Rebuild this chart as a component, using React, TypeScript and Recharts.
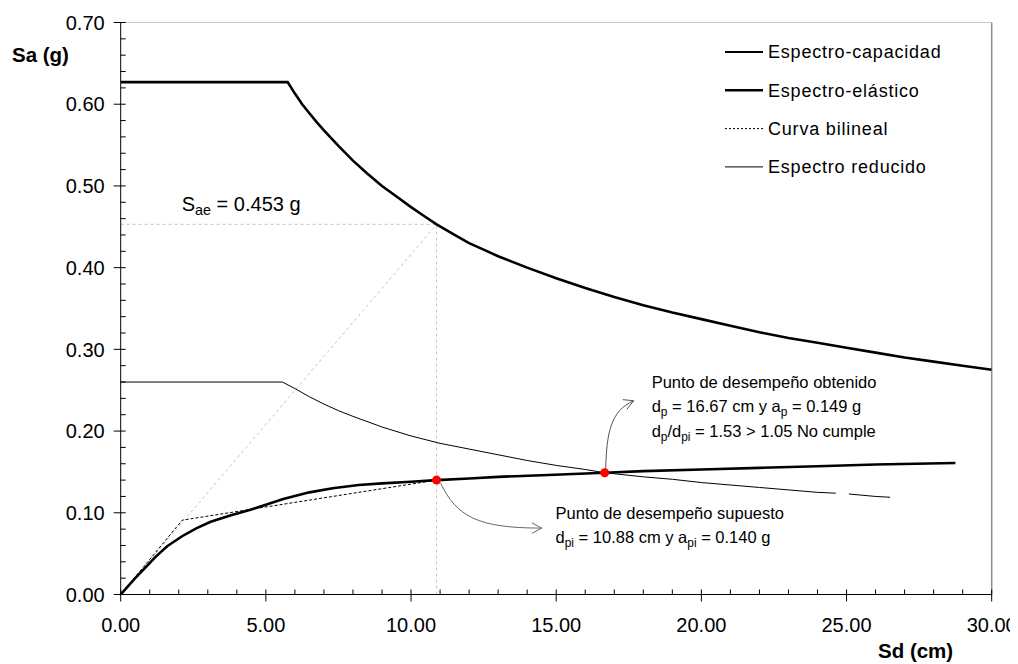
import React from "react";
import {
  LineChart,
  Line,
  XAxis,
  YAxis,
  ReferenceLine,
  ReferenceDot,
  Legend,
  Label,
} from "recharts";

type Pt = [number, number | null];

// Sd (cm), Sa (g)
const espectroCapacidad: Pt[] = [
  [0, 0], [0.5, 0.02], [0.8, 0.031], [1.2, 0.046], [1.6, 0.059], [2.1, 0.071],
  [2.6, 0.081], [3.1, 0.089], [3.8, 0.097], [4.5, 0.104], [5.6, 0.117],
  [6.5, 0.125], [7.3, 0.13], [8.2, 0.134], [9, 0.136], [10, 0.138],
  [10.88, 0.14], [12, 0.142], [13, 0.144], [14.5, 0.146], [16.67, 0.149],
  [18, 0.151], [20, 0.153], [22, 0.155], [24, 0.157], [26, 0.159], [28.75, 0.161],
];

const espectroElastico: Pt[] = [
  [0, 0.627], [5.75, 0.627], [6, 0.613], [6.25, 0.6], [6.5, 0.589],
  [6.75, 0.578], [7, 0.568], [7.5, 0.549], [8, 0.531], [8.5, 0.515],
  [9, 0.5], [9.5, 0.487], [10, 0.474], [10.5, 0.462], [10.88, 0.453],
  [11.5, 0.44], [12, 0.43], [12.5, 0.422], [13, 0.414], [14, 0.4], [15, 0.387],
  [16, 0.375], [17, 0.364], [18, 0.354], [19, 0.345], [20, 0.337],
  [21, 0.329], [22, 0.321], [23, 0.314], [24, 0.308], [25, 0.302],
  [26, 0.296], [27, 0.29], [28, 0.285], [29, 0.28], [30, 0.275],
];

const curvaBilineal: Pt[] = [[0, 0], [2.12, 0.091], [10.88, 0.14]];

const espectroReducido: Pt[] = [
  [0, 0.26], [5.57, 0.26], [6, 0.252], [6.5, 0.242], [7, 0.233], [7.5, 0.225],
  [8, 0.218], [9, 0.205], [10, 0.194], [11, 0.185], [12, 0.178], [13, 0.171],
  [14, 0.164], [15, 0.158], [16, 0.153], [16.67, 0.149], [18, 0.144],
  [19, 0.141], [20, 0.137], [21, 0.134], [22, 0.131], [23, 0.128],
  [24, 0.125], [24.63, 0.124], [24.85, null], [25.08, 0.123], [26, 0.12],
  [26.5, 0.119],
];

const xTicks = [
  0, 1, 2, 3, 4, 5, 6, 7, 8, 9, 10, 11, 12, 13, 14, 15,
  16, 17, 18, 19, 20, 21, 22, 23, 24, 25, 26, 27, 28, 29, 30,
];
const yTicks = [
  0, 0.02, 0.04, 0.06, 0.08, 0.1, 0.12, 0.14, 0.16, 0.18, 0.2, 0.22, 0.24,
  0.26, 0.28, 0.3, 0.32, 0.34, 0.36, 0.38, 0.4, 0.42, 0.44, 0.46, 0.48, 0.5,
  0.52, 0.54, 0.56, 0.58, 0.6, 0.62, 0.64, 0.66, 0.68, 0.7,
];

// punto de desempeño supuesto / obtenido
const dpi = 10.88;
const api = 0.14;
const dp = 16.67;
const ap = 0.149;
const sae = 0.453;
const tolerancia = 1.05;

const FONT = "'Liberation Sans', Arial, sans-serif";

const toRows = (pts: Pt[]) => pts.map(([sd, sa]) => ({ sd, sa }));

const secante = toRows([[0, 0], [dpi, sae]]);
const verticalDpi = toRows([[dpi, 0], [dpi, sae]]);
const horizontalSae = toRows([[0, sae], [dpi, sae]]);

const legendItems = [
  { name: "Espectro-capacidad", width: 2, dash: undefined },
  { name: "Espectro-elástico", width: 2.4, dash: undefined },
  { name: "Curva bilineal", width: 1, dash: "2 2" },
  { name: "Espectro reducido", width: 1, dash: undefined },
];

const isMultiple = (v: number, step: number) =>
  Math.abs(v / step - Math.round(v / step)) < 1e-6;

const XTick = (props: any) => {
  const { x, y, payload } = props;
  const v: number = payload.value;
  const major = isMultiple(v, 5);
  return (
    <g>
      <line x1={x} x2={x} y1={y - 5} y2={major ? y + 7 : y} stroke="#000" />
      {major && (
        <text x={x} y={y + 37} textAnchor="middle" fontSize={20} fontFamily={FONT} fill="#000">
          {v.toFixed(2)}
        </text>
      )}
    </g>
  );
};

const YTick = (props: any) => {
  const { x, y, payload } = props;
  const v: number = payload.value;
  const major = isMultiple(v, 0.1);
  return (
    <g>
      <line x1={major ? x - 7 : x} x2={x + 5} y1={y} y2={y} stroke="#000" />
      {major && (
        <text x={x - 16} y={y} dy="0.36em" textAnchor="end" fontSize={20} fontFamily={FONT} fill="#000">
          {v.toFixed(2)}
        </text>
      )}
    </g>
  );
};

// text made of [string, isSubscript] parts
const SubText = ({ x, y, parts, size = 16.5 }: { x: number; y: number; parts: [string, boolean][]; size?: number }) => {
  let shifted = false;
  return (
    <text x={x} y={y} fontSize={size} fontFamily={FONT} fill="#000">
      {parts.map(([s, sub], i) => {
        let dy = 0;
        if (sub && !shifted) { dy = 4; shifted = true; }
        else if (!sub && shifted) { dy = -4; shifted = false; }
        return (
          <tspan key={i} dy={dy} fontSize={sub ? size * 0.72 : size}>
            {s}
          </tspan>
        );
      })}
    </text>
  );
};

const chevron = (tx: number, ty: number, ang: number, color: string) => {
  const len = 11;
  const spread = 0.5;
  const a1 = ang + Math.PI - spread;
  const a2 = ang + Math.PI + spread;
  return (
    <path
      d={`M${tx + len * Math.cos(a1)},${ty + len * Math.sin(a1)} L${tx},${ty} L${tx + len * Math.cos(a2)},${ty + len * Math.sin(a2)}`}
      fill="none"
      stroke={color}
      strokeWidth={1}
    />
  );
};

const PuntoSupuesto = (props: any) => {
  const { cx, cy } = props;
  const tx = cx + 105;
  const ty = cy + 48;
  return (
    <g>
      <path
        d={`M${cx + 4},${cy + 3} C${cx + 20},${cy + 36} ${cx + 40},${cy + 48} ${tx},${ty}`}
        fill="none"
        stroke="#666"
        strokeWidth={1}
      />
      {chevron(tx, ty, 0, "#666")}
      <circle cx={cx} cy={cy} r={4.5} fill="#ff0000" />
      <SubText x={cx + 119} y={cy + 39} parts={[["Punto de desempeño supuesto", false]]} />
      <SubText
        x={cx + 119}
        y={cy + 63}
        parts={[
          ["d", false], ["pi", true],
          [` = ${dpi.toFixed(2)} cm y a`, false], ["pi", true],
          [` = ${api.toFixed(3)} g`, false],
        ]}
      />
    </g>
  );
};

const PuntoObtenido = (props: any) => {
  const { cx, cy } = props;
  const tx = cx + 29;
  const ty = cy - 72;
  return (
    <g>
      <path
        d={`M${cx + 1},${cy - 4} C${cx + 2},${cy - 40} ${cx + 6},${cy - 62} ${tx},${ty}`}
        fill="none"
        stroke="#555"
        strokeWidth={1}
      />
      {chevron(tx, ty, -0.4, "#555")}
      <circle cx={cx} cy={cy} r={4.5} fill="#ff0000" />
      <SubText x={cx + 47} y={cy - 85} parts={[["Punto de desempeño obtenido", false]]} />
      <SubText
        x={cx + 47}
        y={cy - 61}
        parts={[
          ["d", false], ["p", true],
          [` = ${dp.toFixed(2)} cm y a`, false], ["p", true],
          [` = ${ap.toFixed(3)} g`, false],
        ]}
      />
      <SubText
        x={cx + 47}
        y={cy - 36}
        parts={[
          ["d", false], ["p", true], ["/d", false], ["pi", true],
          [` = ${(dp / dpi).toFixed(2)} > ${tolerancia.toFixed(2)} No cumple`, false],
        ]}
      />
    </g>
  );
};

const SaeLabel = (props: any) => {
  const { cx, cy } = props;
  return (
    <SubText
      x={cx + 61}
      y={cy - 13}
      size={20}
      parts={[["S", false], ["ae", true], [` = ${sae.toFixed(3)} g`, false]]}
    />
  );
};

const LegendBox = () => (
  <svg width={280} height={150}>
    {legendItems.map((it, i) => {
      const y = 14 + i * 38.3;
      return (
        <g key={it.name}>
          <line x1={0} x2={38} y1={y} y2={y} stroke="#000" strokeWidth={it.width} strokeDasharray={it.dash} />
          <text x={43} y={y} dy="0.36em" fontSize={18} letterSpacing={0.8} fontFamily={FONT} fill="#000">
            {it.name}
          </text>
        </g>
      );
    })}
  </svg>
);

export default function App() {
  return (
    <LineChart
      width={1010}
      height={656}
      margin={{ top: 14.5, right: 26.3, bottom: 0, left: 0 }}
      style={{ fontFamily: FONT, overflow: "visible" }}
    >
      <XAxis
        dataKey="sd"
        type="number"
        domain={[0, 30]}
        ticks={xTicks}
        interval={0}
        tick={<XTick />}
        tickLine={false}
        tickSize={0}
        tickMargin={0}
        axisLine={{ stroke: "#000" }}
        height={69.5}
        allowDataOverflow
      >
        <Label
          content={() => (
            <text x={870} y={650} fontSize={20.5} fontWeight="bold" fontFamily={FONT} fill="#000">
              Sd (cm)
            </text>
          )}
        />
      </XAxis>
      <YAxis
        dataKey="sa"
        type="number"
        domain={[0, 0.7]}
        ticks={yTicks}
        interval={0}
        tick={<YTick />}
        tickLine={false}
        tickSize={0}
        tickMargin={0}
        axisLine={{ stroke: "#000" }}
        width={112.7}
        allowDataOverflow
      >
        <Label
          content={() => (
            <text x={4} y={54} fontSize={20.5} fontWeight="bold" fontFamily={FONT} fill="#000">
              Sa (g)
            </text>
          )}
        />
      </YAxis>
      <ReferenceLine y={0.7} stroke="#c8c8c8" />
      <ReferenceLine x={30} stroke="#8c8c8c" strokeWidth={1.5} />
      <Legend
        layout="vertical"
        align="center"
        verticalAlign="middle"
        wrapperStyle={{ left: 717, top: 30, width: 280 }}
        content={() => <LegendBox />}
      />
      {/* construction lines for the elastic demand at dpi */}
      <Line data={secante} dataKey="sa" stroke="#c4c4c4" strokeDasharray="3 3" strokeWidth={1} dot={false} legendType="none" isAnimationActive={false} />
      <Line data={verticalDpi} dataKey="sa" stroke="#c4c4c4" strokeDasharray="3 3" strokeWidth={1} dot={false} legendType="none" isAnimationActive={false} />
      <Line data={horizontalSae} dataKey="sa" stroke="#c4c4c4" strokeDasharray="3 3" strokeWidth={1} dot={false} legendType="none" isAnimationActive={false} />
      <Line
        data={toRows(espectroReducido)}
        dataKey="sa"
        name="Espectro reducido"
        type="linear"
        stroke="#000"
        strokeWidth={1}
        dot={false}
        isAnimationActive={false}
      />
      <Line
        data={toRows(curvaBilineal)}
        dataKey="sa"
        name="Curva bilineal"
        type="linear"
        stroke="#000"
        strokeWidth={1}
        strokeDasharray="3 2"
        dot={false}
        isAnimationActive={false}
      />
      <Line
        data={toRows(espectroElastico)}
        dataKey="sa"
        name="Espectro-elástico"
        type="linear"
        stroke="#000"
        strokeWidth={2.6}
        dot={false}
        isAnimationActive={false}
      />
      <Line
        data={toRows(espectroCapacidad)}
        dataKey="sa"
        name="Espectro-capacidad"
        type="linear"
        stroke="#000"
        strokeWidth={2.6}
        dot={false}
        isAnimationActive={false}
      />
      <ReferenceDot x={0} y={sae} r={0} shape={<SaeLabel />} />
      <ReferenceDot x={dpi} y={api} r={4.5} shape={<PuntoSupuesto />} />
      <ReferenceDot x={dp} y={ap} r={4.5} shape={<PuntoObtenido />} />
    </LineChart>
  );
}
